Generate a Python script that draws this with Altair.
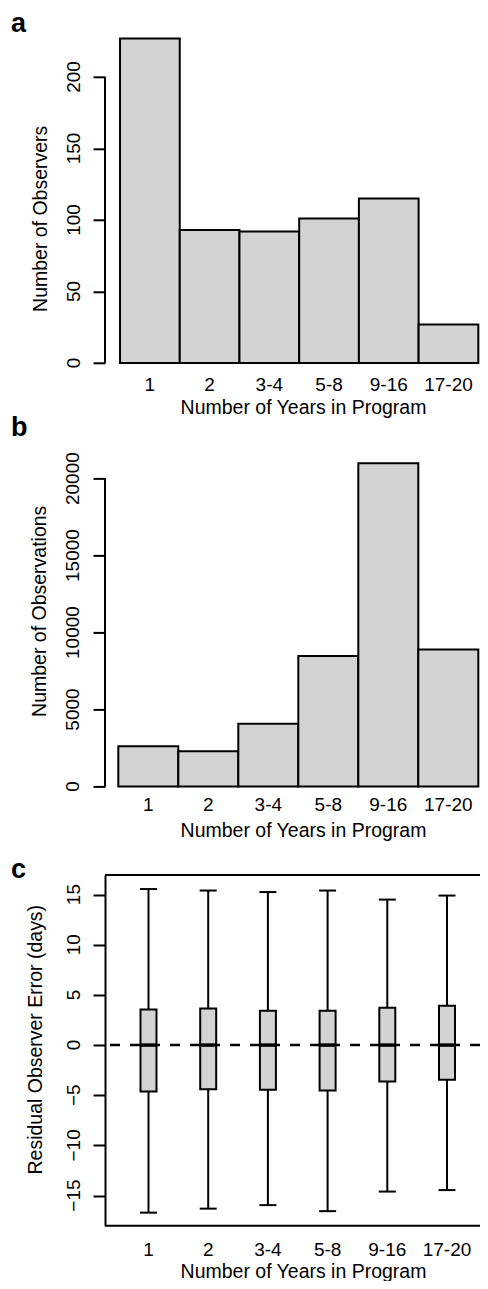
import altair as alt
import pandas as pd

# ---------------- data ----------------
categories = ["1", "2", "3-4", "5-8", "9-16", "17-20"]
observers = [227, 93, 92, 101, 115, 27]
observations = [2620, 2290, 4080, 8480, 21000, 8900]

whisker_low = [-16.7, -16.3, -15.95, -16.55, -14.6, -14.45]
box_q1 = [-4.63, -4.39, -4.46, -4.52, -3.63, -3.46]
box_median = [0, 0, 0, 0, 0, 0]
box_q3 = [3.55, 3.65, 3.42, 3.42, 3.72, 3.92]
whisker_high = [15.55, 15.4, 15.25, 15.4, 14.5, 14.9]

ticks_a = [0, 50, 100, 150, 200]
ticks_b = [0, 5000, 10000, 15000, 20000]
ticks_c = [-15, -10, -5, 0, 5, 10, 15]

panel_letters = ["a", "b", "c"]
x_title = "Number of Years in Program"
y_titles = ["Number of Observers", "Number of Observations",
            "Residual Observer Error (days)"]

FONT = "Liberation Sans"
GREY = "#D3D3D3"


def x_enc(pad_outer, align, label_pad, title_y):
    return alt.X(
        "cat:N", sort=categories,
        scale=alt.Scale(paddingInner=0, paddingOuter=pad_outer, align=align),
        axis=alt.Axis(title=x_title, labelAngle=0, ticks=False, tickSize=0,
                      domain=False, labelPadding=label_pad, labelFontSize=19,
                      titleX=198, titleY=title_y, titleAlign="center",
                      titleBaseline="alphabetic"))


def y_axis(title, values, title_x, title_y, domain=False):
    return alt.Axis(
        title=title, values=values, labels=False, domain=domain,
        domainWidth=2, domainColor="black", tickSize=12, tickWidth=2,
        tickColor="black", titleAngle=270, titleX=title_x, titleY=title_y,
        titleAlign="center", titleBaseline="alphabetic")


def tick_labels(values, xpos, axis, scale):
    df = pd.DataFrame({"v": values,
                       "lab": [str(v).replace("-", "\u2212") for v in values]})
    return alt.Chart(df).mark_text(
        angle=270, align="center", baseline="alphabetic", fontSize=19,
        font=FONT, color="black").encode(
        y=alt.Y("v:Q", axis=axis, scale=scale), text="lab:N", x=alt.value(xpos))


def letter(txt, yv):
    return alt.Chart(pd.DataFrame({"t": [txt]})).mark_text(
        align="left", baseline="alphabetic", fontSize=27, fontWeight="bold",
        font=FONT, color="black").encode(
        text="t:N", x=alt.value(-94), y=alt.value(yv))


one = pd.DataFrame({"k": [0]})

# ---------------- panel a ----------------
df_a = pd.DataFrame({"cat": categories, "value": observers})
scale_a = alt.Scale(domain=[0, 240], nice=False, zero=False)
axis_a = y_axis(y_titles[0], ticks_a, -58.3, 198.5)
bars_a = alt.Chart(df_a).mark_bar(fill=GREY, stroke="black", strokeWidth=2).encode(
    x=x_enc(0.14, 0.9, 12.5, 51), y=alt.Y("value:Q", scale=scale_a, axis=axis_a))
line_a = alt.Chart(one).mark_rule(color="black", strokeWidth=2).encode(
    x=alt.value(0), y=alt.datum(ticks_a[0]), y2=alt.datum(ticks_a[-1]))
panel_a = alt.layer(bars_a, line_a, tick_labels(ticks_a, -25, axis_a, scale_a),
                    letter(panel_letters[0], 12.7)).properties(
    width=375, height=343.2)

# ---------------- panel b ----------------
df_b = pd.DataFrame({"cat": categories, "value": observations})
scale_b = alt.Scale(domain=[0, 21767], nice=False, zero=False)
axis_b = y_axis(y_titles[1], ticks_b, -60, 159.4)
bars_b = alt.Chart(df_b).mark_bar(fill=GREY, stroke="black", strokeWidth=2).encode(
    x=x_enc(0.125, 0.887, 9, 50), y=alt.Y("value:Q", scale=scale_b, axis=axis_b))
line_b = alt.Chart(one).mark_rule(color="black", strokeWidth=2).encode(
    x=alt.value(0), y=alt.datum(ticks_b[0]), y2=alt.datum(ticks_b[-1]))
panel_b = alt.layer(bars_b, line_b, tick_labels(ticks_b, -26.5, axis_b, scale_b),
                    letter(panel_letters[1], -15.6)).properties(
    width=375, height=335.1)

# ---------------- panel c ----------------
df_c = pd.DataFrame({"cat": categories, "lo": whisker_low, "q1": box_q1,
                     "med": box_median, "q3": box_q3, "hi": whisker_high})
xc = x_enc(0.1407, 0.8125, 15, 51.5)
yscale_c = alt.Scale(domain=[-18.0, 16.95], nice=False, zero=False)
axis_c = y_axis(y_titles[2], ticks_c, -63.3, 164.2, domain=True)


def yc(field):
    return alt.Y(field + ":Q", scale=yscale_c, axis=axis_c)


base_c = alt.Chart(df_c)
zero_line = alt.Chart(one).mark_rule(color="black", strokeWidth=2.5,
                                     strokeDash=[10, 10]).encode(y=alt.datum(0))
whisk = base_c.mark_rule(color="black", strokeWidth=2).encode(
    x=xc, y=yc("lo"), y2="hi:Q")
boxes = base_c.mark_bar(size=16, fill=GREY, stroke="black", strokeWidth=2).encode(
    x=xc, y=yc("q1"), y2="q3:Q")
meds = base_c.mark_tick(size=16, thickness=3.5, color="black", opacity=1).encode(
    x=xc, y=yc("med"))
cap_lo = base_c.mark_tick(size=17, thickness=2, color="black", opacity=1).encode(
    x=xc, y=yc("lo"))
cap_hi = base_c.mark_tick(size=17, thickness=2, color="black", opacity=1).encode(
    x=xc, y=yc("hi"))
frame_top = alt.Chart(one).mark_rule(color="black", strokeWidth=2).encode(
    x=alt.value(0), x2=alt.value("width"), y=alt.value(0))
frame_bot = alt.Chart(one).mark_rule(color="black", strokeWidth=2).encode(
    x=alt.value(0), x2=alt.value("width"), y=alt.value("height"))

panel_c = alt.layer(zero_line, whisk, boxes, meds, cap_lo, cap_hi, frame_top,
                    frame_bot, tick_labels(ticks_c, -25, axis_c, yscale_c),
                    letter(panel_letters[2], 2.7)).properties(
    width=375, height=350.7)

# all panels share width 375, which becomes the top-level width; the
# padding places the plot areas and keeps the svg within the page
chart = alt.vconcat(panel_a, panel_b, panel_c, spacing=87.6, bounds="flush").configure_view(
    stroke=None).configure_axis(
    labelFont=FONT, titleFont=FONT, labelFontSize=19, titleFontSize=19.5,
    labelColor="black", titleColor="black", titleFontWeight="normal",
    grid=False).properties(
    autosize=alt.AutoSizeParams(type="none"),
    padding={"left": 97, "top": 11.8, "right": 0, "bottom": 1261},
    background="white")

chart.save("out.html", embed_options={"renderer": "svg", "actions": False})
